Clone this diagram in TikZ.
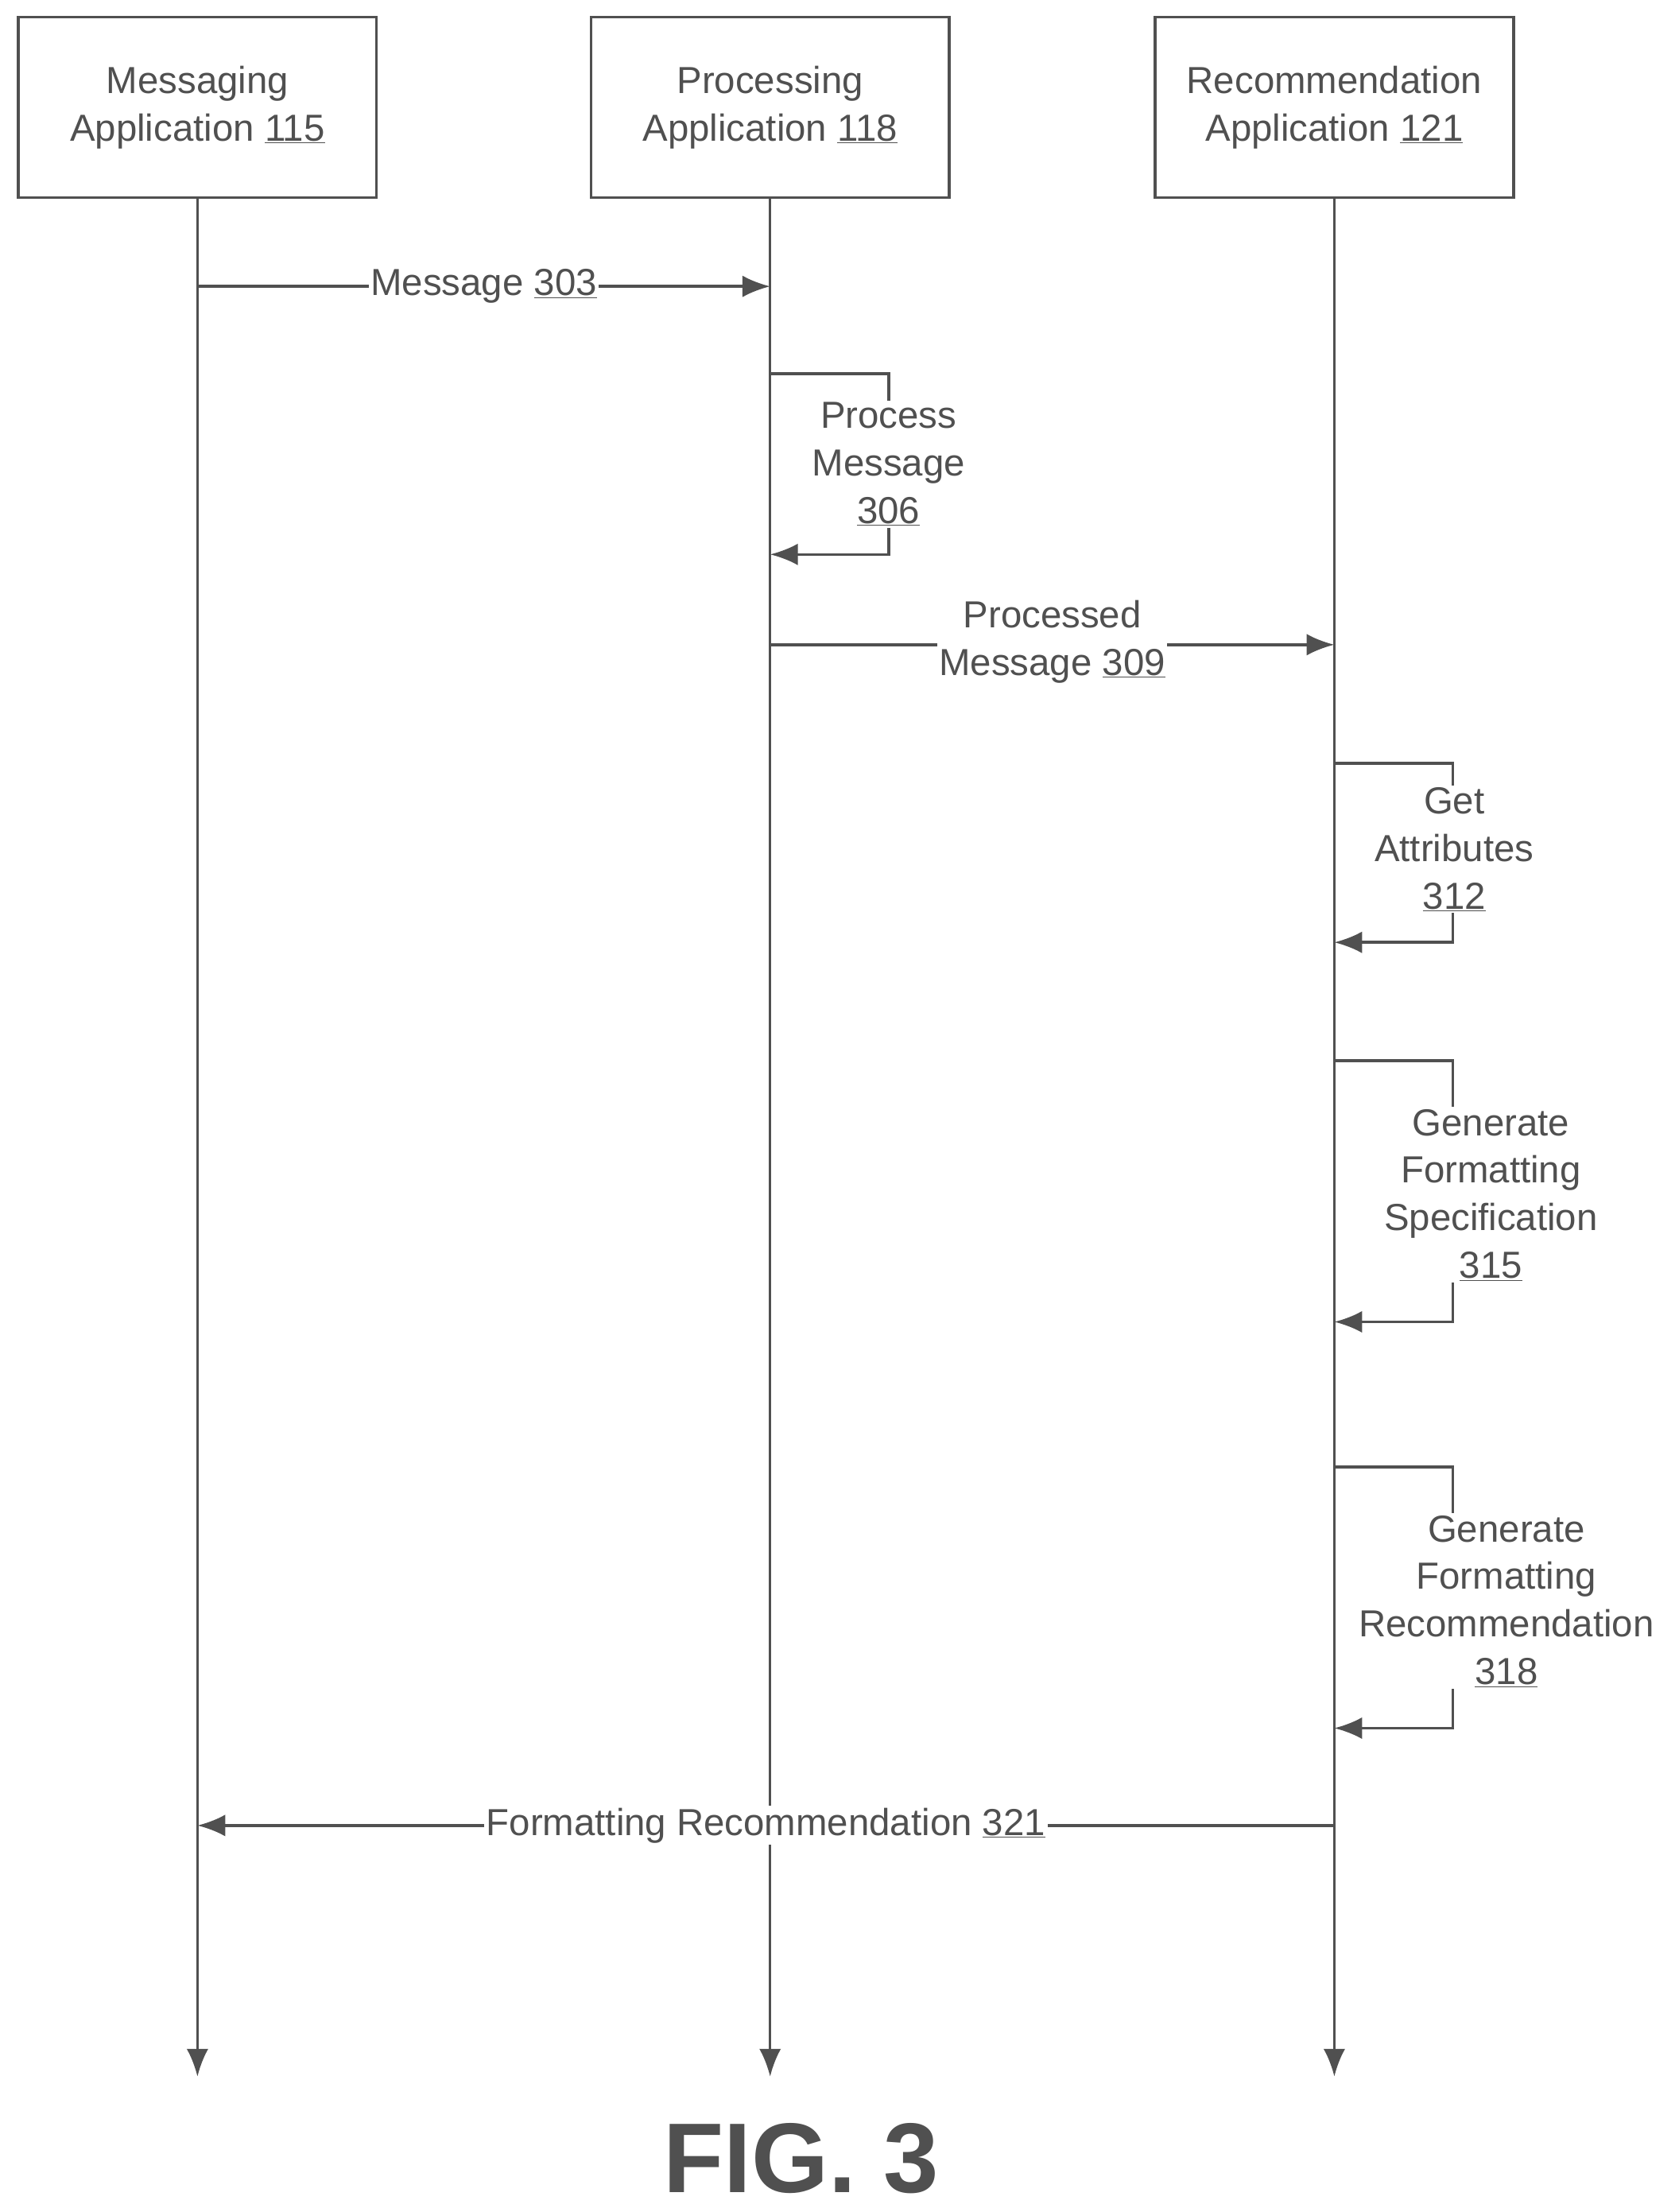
\documentclass[tikz,border=0pt]{standalone}
\usepackage{fontspec}
\setmainfont{Liberation Sans}
\usetikzlibrary{arrows.meta}
\definecolor{ink}{HTML}{505050}
\begin{document}
\begin{tikzpicture}[x=0.05cm,y=-0.05cm,
  every node/.style={font=\fontsize{38}{48}\selectfont, text=ink},
  box/.style={draw=ink, line width=2.8pt, minimum width=12.7cm, minimum height=6.4cm, align=center, inner sep=0pt},
  life/.style={draw=ink, line width=2.8pt},
  msg/.style={draw=ink, line width=2.8pt, -{Latex[length=28pt,width=22pt]}},
  lbl/.style={fill=white, align=center, inner sep=2pt}]
\useasboundingbox (0,0) rectangle (1190,1568);
\node[box] (A) at (140,76) {Messaging\\Application \underline{115}};
\node[box] (B) at (546,76) {Processing\\Application \underline{118}};
\node[box] (C) at (946,76) {Recommendation\\Application \underline{121}};
\coordinate (Ae) at (140,1472);
\coordinate (Be) at (546,1472);
\coordinate (Ce) at (946,1472);
\draw[msg] (A.south) -- (Ae);
\draw[msg] (B.south) -- (Be);
\draw[msg] (C.south) -- (Ce);
% Message 303
\coordinate (m1a) at (140,203); \coordinate (m1b) at (546,203);
\draw[msg] (m1a) -- node[lbl] {Message \underline{303}} (m1b);
% Process message
\coordinate (p1) at (546,265); \coordinate (p2) at (630,265);
\coordinate (p3) at (630,393); \coordinate (p4) at (546,393);
\draw[msg] (p1) -- (p2) -- (p3) -- (p4);
\node[lbl] (pl) at (630,329) {Process\\Message\\\underline{306}};
% Processed message
\coordinate (q1) at (546,457); \coordinate (q2) at (946,457);
\draw[msg] (q1) -- (q2);
\node[lbl] (ql) at (746,455) {Processed\\Message \underline{309}};
% Get attributes
\coordinate (g1) at (946,541); \coordinate (g2) at (1030,541);
\coordinate (g3) at (1030,668); \coordinate (g4) at (946,668);
\draw[msg] (g1) -- (g2) -- (g3) -- (g4);
\node[lbl] (gl) at (1031,602) {Get\\Attributes\\\underline{312}};
% Spec
\coordinate (s1) at (946,752); \coordinate (s2) at (1030,752);
\coordinate (s3) at (1030,937); \coordinate (s4) at (946,937);
\draw[msg] (s1) -- (s2) -- (s3) -- (s4);
\node[lbl] (sl) at (1057,847) {Generate\\Formatting\\Specification\\\underline{315}};
% Rec
\coordinate (r1) at (946,1040); \coordinate (r2) at (1030,1040);
\coordinate (r3) at (1030,1225); \coordinate (r4) at (946,1225);
\draw[msg] (r1) -- (r2) -- (r3) -- (r4);
\node[lbl] (rl) at (1068,1135) {Generate\\Formatting\\Recommendation\\\underline{318}};
% Formatting recommendation
\coordinate (f1) at (946,1294); \coordinate (f2) at (140,1294);
\draw[msg] (f1) -- (f2);
\node[lbl] (fl) at (543,1294) {Formatting Recommendation \underline{321}};
\node[font=\fontsize{100}{110}\selectfont\bfseries, text=ink] (fig) at (568,1530) {FIG. 3};
\end{tikzpicture}
\end{document}
